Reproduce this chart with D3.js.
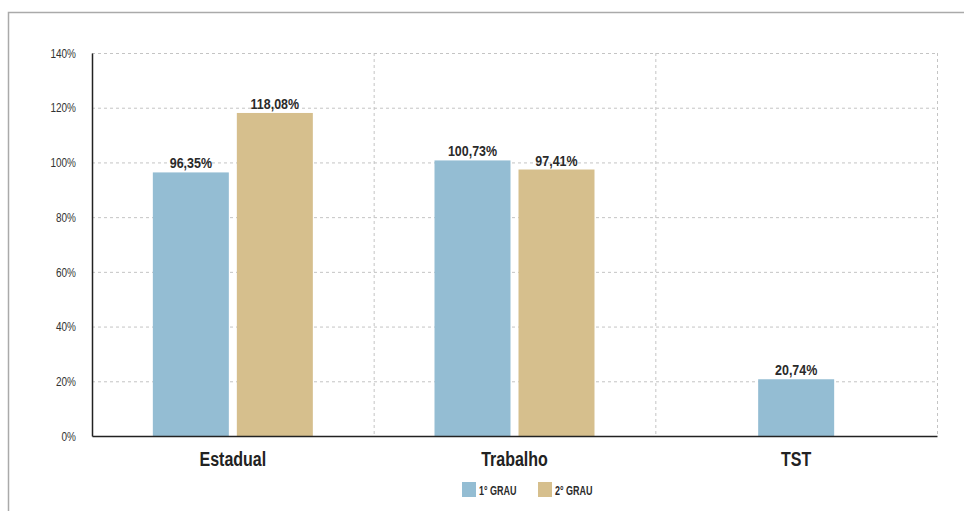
<!DOCTYPE html>
<html>
<head>
<meta charset="utf-8">
<script src="https://cdn.jsdelivr.net/npm/d3@7"></script>
<style>
  body { margin: 0; background: #fff; }
  svg { display: block; font-family: "Liberation Sans", Arial, sans-serif; }
</style>
</head>
<body>
<svg id="chart" width="964" height="511"></svg>
<script>
// categories and series
var categories = ["Estadual", "Trabalho", "TST"];
var seriesNames = ["1° GRAU", "2° GRAU"];
var primeiroGrau = [96.35, 100.73, 20.74];
var segundoGrau = [118.08, 97.41, null];
var yTicks = [0, 20, 40, 60, 80, 100, 120, 140];
var colors = ["#94bdd3", "#d6bf8d"];

var svg = d3.select("#chart");
var margin = { top: 53, right: 27, bottom: 75, left: 92 };
var width = +svg.attr("width") - margin.left - margin.right;
var height = +svg.attr("height") - margin.top - margin.bottom;

// squeeze text horizontally to mimic a condensed face
function condense(sel, sx) {
    sel.each(function () {
        var t = d3.select(this);
        var tx = +t.attr("x") || 0;
        var ty = +t.attr("y") || 0;
        t.attr("x", 0).attr("y", 0)
            .attr("transform", "translate(" + tx + "," + ty + ") scale(" + sx + ",1)");
    });
}

// outer frame
svg.append("path")
    .attr("d", "M8.5,520 V12.5 H980")
    .attr("fill", "none")
    .attr("stroke", "#aaa")
    .attr("stroke-width", 1.5);

var g = svg.append("g").attr("transform", "translate(" + margin.left + "," + margin.top + ")");

var x = d3.scaleBand().domain(categories).range([0, width]).padding(0);
var y = d3.scaleLinear().domain([0, 140]).range([height, 0]);
var barWidth = 76, barGap = 8;

// grid lines
g.selectAll(".hgrid").data(yTicks.slice(1))
    .enter().append("line")
    .attr("x1", 0).attr("x2", width)
    .attr("y1", d => y(d) + 0.5).attr("y2", d => y(d) + 0.5)
    .attr("stroke", "#c4c4c4").attr("stroke-dasharray", "3,3");

g.selectAll(".vgrid").data(categories)
    .enter().append("line")
    .attr("x1", d => x(d) + x.bandwidth() + 0.5).attr("x2", d => x(d) + x.bandwidth() + 0.5)
    .attr("y1", 0).attr("y2", height)
    .attr("stroke", "#c4c4c4").attr("stroke-dasharray", "3,3");

// bars (a lone bar sits in the middle of its band)
var rows = [];
categories.forEach(function (c, i) {
    var vals = [primeiroGrau[i], segundoGrau[i]];
    var present = vals.map((v, k) => ({ v: v, k: k })).filter(d => d.v != null);
    var total = present.length * barWidth + (present.length - 1) * barGap;
    var start = x(c) + (x.bandwidth() - total) / 2;
    present.forEach(function (d, j) {
        rows.push({ cat: c, value: d.v, series: d.k, x0: start + j * (barWidth + barGap) });
    });
});

g.selectAll(".bar").data(rows)
    .enter().append("rect")
    .attr("class", "bar")
    .attr("x", d => d.x0)
    .attr("width", barWidth)
    .attr("y", d => y(d.value))
    .attr("height", d => height - y(d.value))
    .attr("fill", d => colors[d.series]);

g.selectAll(".vlabel").data(rows)
    .enter().append("text")
    .attr("x", d => d.x0 + barWidth / 2)
    .attr("y", d => y(d.value) - 4)
    .attr("text-anchor", "middle")
    .attr("font-size", 14.5)
    .attr("font-weight", "bold")
    .attr("fill", "#2a2a2a")
    .text(d => d.value.toFixed(2).replace(".", ",") + "%")
    .call(condense, 0.86);

// axes
var yAxis = g.append("g")
    .call(d3.axisLeft(y).tickValues(yTicks).tickSize(0).tickPadding(16).tickFormat(d => d + "%"));
yAxis.select(".domain").attr("stroke", "#222").attr("stroke-width", 1.5);
yAxis.selectAll("text").attr("font-size", 13).attr("fill", "#333").style("font-family", "inherit")
    .call(condense, 0.77);

var xAxis = g.append("g")
    .attr("transform", "translate(0," + height + ")")
    .call(d3.axisBottom(x).tickSize(0).tickPadding(16));
xAxis.select(".domain").attr("stroke", "#222").attr("stroke-width", 1.5);
xAxis.selectAll("text").attr("font-size", 20).attr("font-weight", "bold").attr("fill", "#222")
    .style("font-family", "inherit")
    .call(condense, 0.8);

// legend
var legend = svg.append("g").attr("transform", "translate(462,482)");
var items = legend.selectAll(".item").data(seriesNames)
    .enter().append("g")
    .attr("transform", (d, i) => "translate(" + (i * 76) + ",0)");
items.append("rect").attr("width", 14).attr("height", 15).attr("fill", (d, i) => colors[i]);
items.append("text").attr("x", 17).attr("y", 13)
    .attr("font-size", 12.5).attr("font-weight", "bold").attr("fill", "#2a2a2a")
    .text(d => d)
    .call(condense, 0.72);
</script>
</body>
</html>
